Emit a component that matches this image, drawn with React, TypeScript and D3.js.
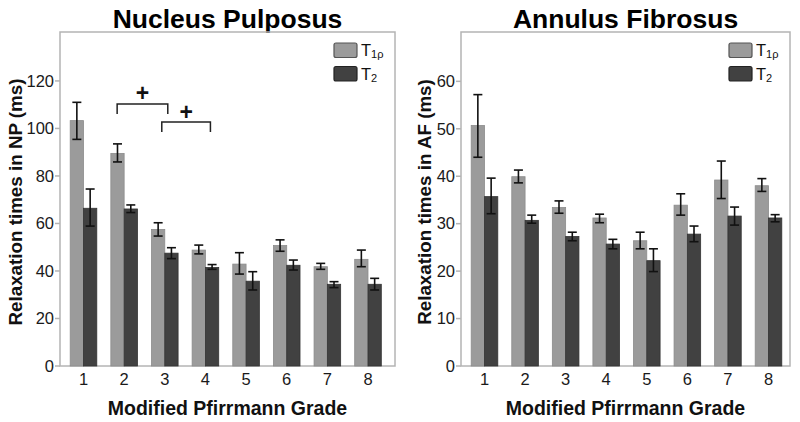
import React from "react";
import * as d3 from "d3";

const grades = ["1", "2", "3", "4", "5", "6", "7", "8"];
const seriesNames = ["T1ρ", "T2"];

// Nucleus Pulposus
const npT1 = [103.3, 89.5, 57.5, 48.8, 42.9, 50.7, 41.8, 44.9];
const npT1Lo = [95.4, 85.9, 54.7, 47.2, 38.7, 48.3, 40.7, 41.8];
const npT1Hi = [111.0, 93.5, 60.3, 50.9, 47.7, 53.1, 43.2, 48.8];
const npT2 = [66.4, 66.1, 47.5, 41.5, 35.7, 42.4, 34.4, 34.4];
const npT2Lo = [58.9, 64.6, 45.2, 40.7, 32.0, 40.4, 33.0, 32.0];
const npT2Hi = [74.5, 67.8, 49.8, 42.7, 39.7, 44.6, 35.5, 36.9];
const npTicks = [0, 20, 40, 60, 80, 100, 120];

// Annulus Fibrosus
const afT1 = [50.7, 39.9, 33.4, 31.2, 26.4, 33.9, 39.2, 38.0];
const afT1Lo = [44.0, 38.6, 32.2, 30.2, 24.7, 31.8, 35.3, 36.8];
const afT1Hi = [57.2, 41.3, 34.8, 32.0, 28.2, 36.3, 43.2, 39.5];
const afT2 = [35.7, 30.7, 27.3, 25.7, 22.2, 27.8, 31.6, 31.2];
const afT2Lo = [32.1, 30.1, 26.4, 24.7, 19.9, 26.2, 29.7, 30.4];
const afT2Hi = [39.6, 31.8, 28.2, 26.7, 24.7, 29.5, 33.5, 31.9];
const afTicks = [0, 10, 20, 30, 40, 50, 60];

// significance brackets (NP)
const npBrackets = [
  { from: "2", to: "3", top: 110.3, leg: 106.1, plus: 115.0 },
  { from: "3", to: "4", top: 102.7, leg: 98.5, plus: 107.0 },
];

const FONT = "'Liberation Sans', Arial, Helvetica, sans-serif";
const COL_T1 = "#9b9b9b";
const COL_T2 = "#414141";

type PanelProps = {
  title: string;
  yLabel: string;
  yLabelX: number;
  left: number;
  right: number;
  xFirst: number;
  xLast: number;
  yMax: number;
  ticks: number[];
  t1: number[];
  t1Lo: number[];
  t1Hi: number[];
  t2: number[];
  t2Lo: number[];
  t2Hi: number[];
  brackets?: typeof npBrackets;
};

function Panel(p: PanelProps) {
  const top = 32;
  const bottom = 366;
  const x = d3.scalePoint<string>().domain(grades).range([p.xFirst, p.xLast]);
  const y = d3.scaleLinear().domain([0, p.yMax]).range([bottom, top]);
  const bw = 13.3;
  const cap = 4.5;
  const cx = (p.left + p.right) / 2;
  const series = [
    { v: p.t1, lo: p.t1Lo, hi: p.t1Hi, off: -bw, fill: COL_T1, stroke: "#8c8c8c" },
    { v: p.t2, lo: p.t2Lo, hi: p.t2Hi, off: 0, fill: COL_T2, stroke: "#333" },
  ];
  return (
    <g>
      <text x={cx} y={28} textAnchor="middle" fontFamily={FONT} fontWeight="bold" fontSize={26.5} fill="#000">
        {p.title}
      </text>
      <rect x={p.left} y={top} width={p.right - p.left} height={bottom - top} fill="none" stroke="#b4b4b4" strokeWidth={1.5} />
      {p.ticks.map((t) => (
        <g key={t}>
          <line x1={p.left - 5} x2={p.left} y1={y(t)} y2={y(t)} stroke="#b4b4b4" strokeWidth={1.5} />
          <text x={p.left - 6} y={y(t)} dy="0.35em" textAnchor="end" fontFamily={FONT} fontSize={16.5} fill="#1a1a1a">
            {t}
          </text>
        </g>
      ))}
      {grades.map((g) => (
        <text key={g} x={x(g)} y={385} textAnchor="middle" fontFamily={FONT} fontSize={16.5} fill="#1a1a1a">
          {g}
        </text>
      ))}
      {series.map((s, si) =>
        grades.map((g, i) => {
          const x0 = (x(g) as number) + s.off;
          return (
            <rect key={`b${si}-${i}`} x={x0} y={y(s.v[i])} width={bw} height={y(0) - y(s.v[i])} fill={s.fill} stroke={s.stroke} strokeWidth={0.8} />
          );
        })
      )}
      {series.map((s, si) =>
        grades.map((g, i) => {
          const xc = (x(g) as number) + s.off + bw / 2;
          return (
            <g key={`e${si}-${i}`} stroke="#111" strokeWidth={1.6}>
              <line x1={xc} x2={xc} y1={y(s.hi[i])} y2={y(s.lo[i])} />
              <line x1={xc - cap} x2={xc + cap} y1={y(s.hi[i])} y2={y(s.hi[i])} />
              <line x1={xc - cap} x2={xc + cap} y1={y(s.lo[i])} y2={y(s.lo[i])} />
            </g>
          );
        })
      )}
      {(p.brackets || []).map((b, i) => {
        const xa = (x(b.from) as number) - (i === 0 ? 7 : 3);
        const xb = (x(b.to) as number) + (i === 0 ? 3 : 5);
        return (
          <g key={`br${i}`}>
            <path
              d={`M${xa},${y(b.leg)}V${y(b.top)}H${xb}V${y(b.leg)}`}
              fill="none"
              stroke="#222"
              strokeWidth={1.5}
            />
            <text x={(xa + xb) / 2} y={y(b.plus)} dy="0.35em" textAnchor="middle" fontFamily={FONT} fontWeight="bold" fontSize={23} fill="#111">
              +
            </text>
          </g>
        );
      })}
      {/* legend */}
      {series.map((s, si) => (
        <g key={`lg${si}`}>
          <rect x={p.right - 61} y={43 + si * 23.5} width={23} height={14.5} rx={2} fill={s.fill} stroke={si === 0 ? "#555" : "#222"} strokeWidth={1.2} />
          <text x={p.right - 34} y={56 + si * 23.5} fontFamily={FONT} fontSize={16.5} fill="#111">
            T
            <tspan fontSize={11} dy={2}>
              {seriesNames[si].slice(1)}
            </tspan>
          </text>
        </g>
      ))}
      <text
        transform={`translate(${p.yLabelX},${(top + bottom) / 2 + 3}) rotate(-90)`}
        textAnchor="middle"
        fontFamily={FONT}
        fontWeight="bold"
        fontSize={18.8}
        fill="#111"
      >
        {p.yLabel}
      </text>
      <text x={cx} y={415} textAnchor="middle" fontFamily={FONT} fontWeight="bold" fontSize={19.5} fill="#111">
        Modified Pfirrmann Grade
      </text>
    </g>
  );
}

export default function App() {
  return (
    <svg width={800} height={422} style={{ position: "absolute", left: 0, top: 0, background: "#fff" }}>
      <rect width={800} height={422} fill="#fff" />
      <Panel
        title="Nucleus Pulposus"
        yLabel="Relaxation times in NP (ms)"
        yLabelX={21.5}
        left={60}
        right={395}
        xFirst={83.5}
        xLast={368}
        yMax={140.6}
        ticks={npTicks}
        t1={npT1}
        t1Lo={npT1Lo}
        t1Hi={npT1Hi}
        t2={npT2}
        t2Lo={npT2Lo}
        t2Hi={npT2Hi}
        brackets={npBrackets}
      />
      <Panel
        title="Annulus Fibrosus"
        yLabel="Relaxation times in AF (ms)"
        yLabelX={431}
        left={461}
        right={790}
        xFirst={484.5}
        xLast={768.5}
        yMax={70.4}
        ticks={afTicks}
        t1={afT1}
        t1Lo={afT1Lo}
        t1Hi={afT1Hi}
        t2={afT2}
        t2Lo={afT2Lo}
        t2Hi={afT2Hi}
      />
    </svg>
  );
}
